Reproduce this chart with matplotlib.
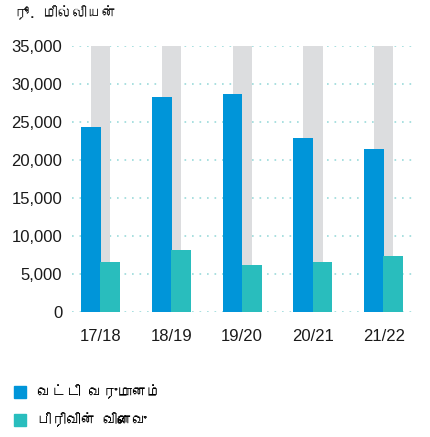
# Interest income vs. segment effect, rupees million (Tamil labels)

from matplotlib import pyplot as plt
from matplotlib import font_manager
from matplotlib.ft2font import FT2Font
from matplotlib.patches import Patch
from matplotlib.ticker import FuncFormatter
import numpy as np

years = ["17/18", "18/19", "19/20", "20/21", "21/22"]
interest_income = [24300, 28250, 28650, 22950, 21400]
segment_effect = [6600, 8150, 6200, 6600, 7400]
scale_max = [35000, 35000, 35000, 35000, 35000]

unit_label = "ரூ. மில்லியன்"
legend_labels = ["வட்டி வருமானம்", "பிரிவின் விளைவு"]


def find_tamil_font():
    """ Returns the name of an installed family that has Tamil glyphs, or None """
    for entry in font_manager.fontManager.ttflist:
        try:
            charmap = FT2Font(entry.fname).get_charmap()
        except Exception:
            continue
        if 0x0BB5 in charmap and 0x0BAE in charmap:
            return entry.name
    return None


tamil_font = find_tamil_font()
tamil_family = [tamil_font, "DejaVu Sans"] if tamil_font else ["DejaVu Sans"]
plt.rcParams["font.family"] = ["Liberation Sans", "DejaVu Sans"]

blue = "#0095d9"
teal = "#29bdbd"
grey = "#dcdddf"

fig = plt.figure(figsize=(4.30, 4.37), dpi=100)
ax = fig.add_axes([72 / 430, 1 - 312 / 437, (415 - 72) / 430, (312 - 46) / 437])

x = np.arange(len(years))
ax.bar(x, scale_max, width=0.27, color=grey, zorder=1)
ax.bar(x - 0.135, interest_income, width=0.28, color=blue, zorder=2)
ax.bar(x + 0.135, segment_effect, width=0.28, color=teal, zorder=3)

ax.set_xlim(-0.4, 4.44)
ax.set_ylim(0, 35000)
ax.set_yticks(range(0, 35001, 5000))
ax.yaxis.set_major_formatter(FuncFormatter(lambda v, p: f"{int(v):,}"))
ax.set_xticks(x)
ax.set_xticklabels(years)
ax.tick_params(length=0, labelsize=12, colors="#1a1a1a")
ax.tick_params(axis="y", pad=7)
ax.tick_params(axis="x", pad=12)
ax.grid(axis="y", color="#9adada", linestyle=(0, (1, 3.5)), linewidth=1.2, zorder=0)
ax.set_axisbelow(True)
for spine in ax.spines.values():
    spine.set_visible(False)

fig.text(14 / 430, 1 - 13 / 437, unit_label, fontsize=10.5, color="#1a1a1a",
         family=tamil_family, va="center", ha="left")

handles = [Patch(color=blue, label=legend_labels[0]), Patch(color=teal, label=legend_labels[1])]
fig.legend(handles=handles, loc="upper left", bbox_to_anchor=(14 / 430, 1 - 384 / 437),
           frameon=False, borderpad=0, borderaxespad=0,
           handlelength=0.85, handleheight=0.85, handletextpad=0.75,
           labelspacing=0.9, prop={"family": tamil_family, "size": 10.5})

plt.savefig("out.png", dpi=100)
